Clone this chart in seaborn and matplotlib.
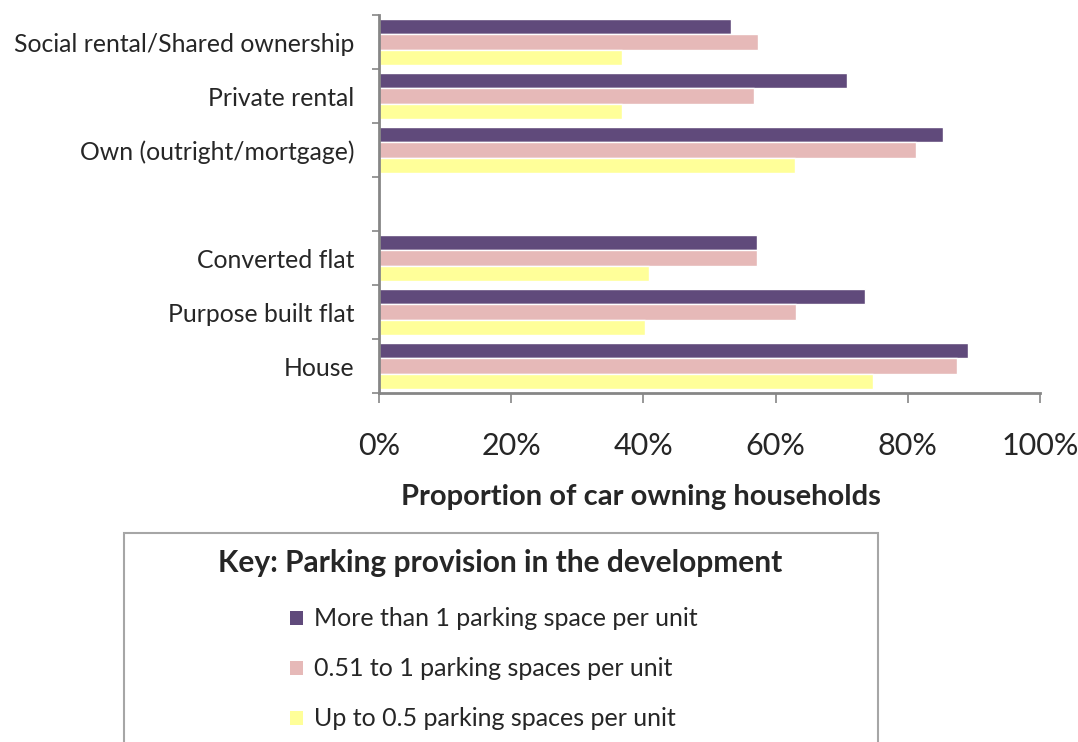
import matplotlib
matplotlib.use("Agg")
import matplotlib.pyplot as plt
import seaborn as sns
import pandas as pd
import numpy as np
from matplotlib.ticker import PercentFormatter, FixedLocator
from matplotlib.patches import Rectangle

categories = ["Social rental/Shared ownership", "Private rental", "Own (outright/mortgage)",
              " ", "Converted flat", "Purpose built flat", "House"]
series = ["More than 1 parking space per unit",
          "0.51 to 1 parking spaces per unit",
          "Up to 0.5 parking spaces per unit"]
more_than_1 = [0.533, 0.708, 0.854, np.nan, 0.572, 0.736, 0.891]
from_051_to_1 = [0.573, 0.568, 0.813, np.nan, 0.572, 0.631, 0.874]
up_to_05 = [0.367, 0.367, 0.629, np.nan, 0.409, 0.403, 0.747]
x_ticks = [0, 0.2, 0.4, 0.6, 0.8, 1.0]

colors = ["#604a7b", "#e6b9b8", "#ffff99"]

rows = []
for vals, s in zip([more_than_1, from_051_to_1, up_to_05], series):
    for c, v in zip(categories, vals):
        if not np.isnan(v):
            rows.append({"cat": c, "val": v, "series": s})
df = pd.DataFrame(rows)

sns.set_theme(style="white")
plt.rcParams["font.family"] = ["Lato", "DejaVu Sans"]
text_color = "#262626"

fig = plt.figure(figsize=(10.78, 7.42), dpi=100)
ax = fig.add_axes([379/1078, 1-393/742, (1040-379)/1078, (393-15)/742])

sns.barplot(data=df, y="cat", x="val", hue="series", order=categories,
            hue_order=series, palette=colors, orient="h", width=0.85,
            saturation=1, ax=ax, legend=False, errorbar=None)

ax.set_xlim(0, 1.0)
ax.set_ylim(len(categories) - 0.5, -0.5)
ax.xaxis.set_major_locator(FixedLocator(x_ticks))
ax.xaxis.set_major_formatter(PercentFormatter(1.0, decimals=0))
ax.set_yticks(range(len(categories)))
ax.set_yticklabels(categories)
ax.set_yticks(np.arange(-0.5, len(categories), 1.0), minor=True)

for s in ["top", "right"]:
    ax.spines[s].set_visible(False)
for s in ["left", "bottom"]:
    ax.spines[s].set_color("#868686")
    ax.spines[s].set_linewidth(2)

ax.tick_params(axis="y", which="major", length=0, pad=18, labelsize=17.8, labelcolor=text_color)
ax.tick_params(axis="y", which="minor", left=True, length=5, width=1.2, color="#868686")
ax.tick_params(axis="x", which="major", bottom=True, length=7, width=1.2, color="#868686",
               pad=21, labelsize=22, labelcolor=text_color)
ax.set_xlabel("Proportion of car owning households", fontsize=21, fontweight="bold",
              color=text_color, labelpad=17, x=(641-379)/661, ha="center")
ax.set_ylabel("")

# legend key box
fig.patches.append(Rectangle((124/1078, -0.05), (878-124)/1078, 1-533/742+0.05,
                             transform=fig.transFigure, fill=False,
                             edgecolor="#a6a6a6", linewidth=1.5))
fig.text(500/1078, 1-563/742, "Key: Parking provision in the development",
         ha="center", va="center", fontsize=21.5, fontweight="bold", color=text_color)
handles = [Rectangle((0, 0), 1, 1, facecolor=c, edgecolor="none") for c in colors]
fig.legend(handles, series, loc="center left", bbox_to_anchor=(290/1078, 1-669/742),
           frameon=False, fontsize=18, handlelength=0.5, handleheight=0.5,
           handletextpad=0.45, labelspacing=1.08, borderpad=0, borderaxespad=0,
           labelcolor=text_color)

fig.savefig("out.png", dpi=100)
